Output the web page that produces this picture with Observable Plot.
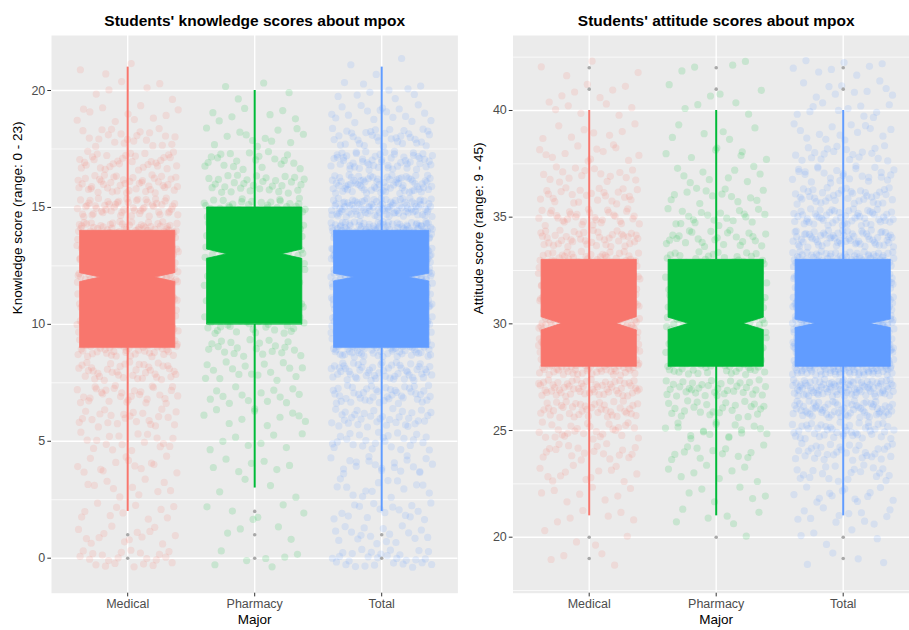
<!DOCTYPE html>
<html><head><meta charset="utf-8">
<script src="https://cdn.jsdelivr.net/npm/d3@7"></script>
<script src="https://cdn.jsdelivr.net/npm/@observablehq/plot@0.6"></script>
<style>
html,body{margin:0;padding:0;background:#fff;overflow:hidden;}
#wrap{position:relative;width:909px;height:630px;overflow:hidden;background:#fff;}
#left,#right{position:absolute;top:0;width:460px;height:630px;}
#left{left:0px}
#right{left:460px}
#wrap svg{max-width:none !important;}
</style></head>
<body><div id="wrap"><div id="left"></div><div id="right"></div></div>
<script>
// ---------- categories & colours ----------
const majors = ["Medical", "Pharmacy", "Total"];
const majorColors = ["#F8766D", "#00BA38", "#619CFF"];

// ---------- knowledge scores (integer score -> number of students) ----------
const knowledgeScores   = [0,1,2,3,4,5,6,7,8,9,10,11,12,13,14,15,16,17,18,19,20,21];
const knowledgeMedical  = [22,14,11,11,14,18,24,31,39,56,63,70,77,81,77,56,45,34,22,11,6,3];
const knowledgePharmacy = [7,4,6,4,7,8,11,14,17,21,31,34,35,48,45,42,31,21,13,7,4,0];
const knowledgeTotal    = [29,18,17,15,21,26,35,45,56,77,94,104,112,129,122,98,76,55,35,18,10,3];

// knowledge boxplot summary (Medical, Pharmacy, Total)
const knowledgeWhiskerLow  = [2, 3, 2];
const knowledgeQ1          = [9, 10, 9];
const knowledgeMedian      = [12, 13, 12];
const knowledgeQ3          = [14, 15, 14];
const knowledgeWhiskerHigh = [21, 20, 21];
const knowledgeNotchHalf   = [0.19, 0.2, 0.165];
const knowledgeOutliers    = [[0, 1], [0, 1, 2], [0, 1]];

// ---------- attitude scores ----------
const attitudeScores   = [19,20,21,22,23,24,25,26,27,28,29,30,31,32,33,34,35,36,37,38,39,40,41,42];
const attitudeMedical  = [4,4,6,8,13,20,28,42,57,70,73,77,67,59,53,42,34,25,17,13,8,7,6,4];
const attitudePharmacy = [0,1,6,6,8,13,18,25,35,42,45,48,42,36,32,25,20,14,10,7,6,4,4,4];
const attitudeTotal    = [4,5,12,14,21,33,46,67,92,112,118,125,109,95,85,67,54,39,27,20,14,11,10,8];

const attitudeWhiskerLow  = [21, 21, 21];
const attitudeQ1          = [28, 28, 28];
const attitudeMedian      = [30, 30, 30];
const attitudeQ3          = [33, 33, 33];
const attitudeWhiskerHigh = [40, 40, 40];
const attitudeNotchHalf   = [0.31, 0.29, 0.2];
const attitudeOutliers    = [[19, 20, 41, 42], [20, 41, 42], [19, 20, 41, 42]];

// ---------- helpers ----------
function halton(i, b) { let f = 1, r = 0; while (i > 0) { f /= b; r += f * (i % b); i = Math.floor(i / b); } return r; }

// jitter like geom_jitter (width 0.4, height 0.4), deterministic low-discrepancy offsets
function jitterPoints(scores, countsByMajor) {
  const pts = [];
  countsByMajor.forEach((counts, m) => {
    let k = 1 + m * 977;
    scores.forEach((s, j) => {
      for (let c = 0; c < counts[j]; c++) {
        k++;
        pts.push({x: m + 1 + (halton(k, 2) - 0.5) * 0.8, y: s + (halton(k, 3) - 0.5) * 0.8, color: majorColors[m]});
      }
    });
  });
  return pts;
}

const BOX_HALF = 0.375, NOTCH_INDENT = 0.16;
function boxPolys(q1, med, q3, notch) {
  const rows = [];
  majors.forEach((m, i) => {
    const c = i + 1;
    const ys = [q1[i], med[i] - notch[i], med[i], med[i] + notch[i], q3[i]];
    const ind = [0, 0, NOTCH_INDENT, 0, 0];
    ys.forEach((y, k) => rows.push({z: m, y, x1: c - BOX_HALF + ind[k], x2: c + BOX_HALF - ind[k], color: majorColors[i]}));
  });
  return rows;
}

function panel(o) {
  const pts = jitterPoints(o.scores, o.counts);
  const whiskers = [];
  majors.forEach((m, i) => {
    whiskers.push({x: i + 1, y1: o.wl[i], y2: o.q1[i], color: majorColors[i]});
    whiskers.push({x: i + 1, y1: o.q3[i], y2: o.wh[i], color: majorColors[i]});
  });
  const outl = [];
  o.outliers.forEach((arr, i) => arr.forEach(v => outl.push({x: i + 1, y: v})));
  const font = "'Liberation Sans', Arial, Helvetica, sans-serif";
  return Plot.plot({
    width: o.width, height: 630,
    marginLeft: o.marginLeft, marginRight: o.marginRight, marginTop: 35, marginBottom: 37.3,
    style: {fontFamily: font, fontSize: "12.5px", background: "transparent", overflow: "visible", maxWidth: "none"},
    x: {type: "linear", domain: [0.4, 3.6]},
    y: {domain: o.yDomain},
    color: {type: "identity"},
    marks: [
      Plot.frame({fill: "#EBEBEB", stroke: null}),
      Plot.gridY(o.yMinor, {stroke: "#fff", strokeOpacity: 1, strokeWidth: 0.7}),
      Plot.gridY(o.yTicks, {stroke: "#fff", strokeOpacity: 1, strokeWidth: 1.4}),
      Plot.gridX([1, 2, 3], {stroke: "#fff", strokeOpacity: 1, strokeWidth: 1.4}),
      Plot.dot(pts, {x: "x", y: "y", r: 3.6, fill: "color", fillOpacity: 0.15, stroke: null}),
      Plot.ruleX(whiskers, {x: "x", y1: "y1", y2: "y2", stroke: "color", strokeWidth: 2}),
      Plot.areaX(boxPolys(o.q1, o.med, o.q3, o.notch), {y: "y", x1: "x1", x2: "x2", z: "z", fill: "color", stroke: "color", strokeWidth: 0.8, curve: "linear"}),
      Plot.dot(outl, {x: "x", y: "y", r: 1.8, fill: "#A9A9A9", stroke: null}),
      Plot.axisY(o.yTicks, {tickSize: 3.7, tickPadding: 2.5, stroke: "#333", fill: "#4D4D4D", fontSize: 12.5, label: null}),
      Plot.axisX([1, 2, 3], {tickFormat: d => majors[d - 1], tickSize: 3.7, tickPadding: 2.5, stroke: "#333", fill: "#4D4D4D", fontSize: 12.5, label: null}),
      Plot.text([o.yLabel], {frameAnchor: "left", dx: -o.yLabelOffset, rotate: -90, fill: "#000", fontSize: 13.5}),
      Plot.text(["Major"], {frameAnchor: "bottom", dy: 31, fill: "#000", fontSize: 13.5}),
      Plot.text([o.title], {frameAnchor: "top", dy: -20.5, fill: "#000", fontSize: 15.5, fontWeight: "bold"})
    ]
  });
}

document.getElementById("left").appendChild(panel({
  width: 460, marginLeft: 51, marginRight: 2.6,
  scores: knowledgeScores, counts: [knowledgeMedical, knowledgePharmacy, knowledgeTotal],
  wl: knowledgeWhiskerLow, q1: knowledgeQ1, med: knowledgeMedian, q3: knowledgeQ3, wh: knowledgeWhiskerHigh,
  notch: knowledgeNotchHalf, outliers: knowledgeOutliers,
  yDomain: [-1.497, 22.352], yTicks: [0, 5, 10, 15, 20], yMinor: [2.5, 7.5, 12.5, 17.5],
  yLabel: "Knowledge score (range: 0 - 23)", yLabelOffset: 34,
  title: "Students' knowledge scores about mpox"
}));

document.getElementById("right").appendChild(panel({
  width: 460, marginLeft: 52.5, marginRight: 1.1,
  scores: attitudeScores, counts: [attitudeMedical, attitudePharmacy, attitudeTotal],
  wl: attitudeWhiskerLow, q1: attitudeQ1, med: attitudeMedian, q3: attitudeQ3, wh: attitudeWhiskerHigh,
  notch: attitudeNotchHalf, outliers: attitudeOutliers,
  yDomain: [17.375, 43.515], yTicks: [20, 25, 30, 35, 40], yMinor: [17.5, 22.5, 27.5, 32.5, 37.5, 42.5],
  yLabel: "Attitude score (range: 9 - 45)", yLabelOffset: 34,
  title: "Students' attitude scores about mpox"
}));
</script>
</body></html>
